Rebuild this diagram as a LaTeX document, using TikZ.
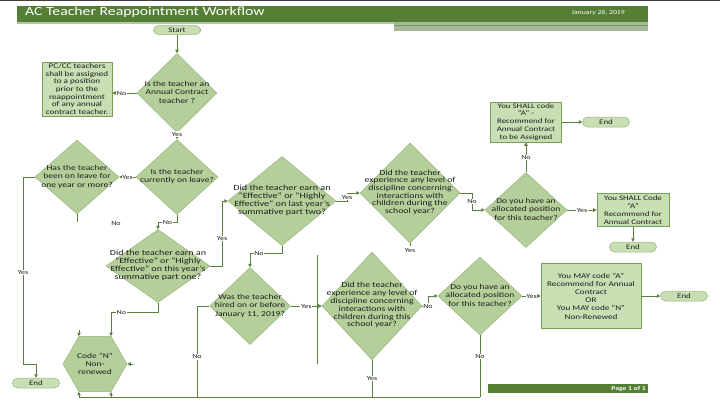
\documentclass[tikz,border=0pt]{standalone}
\usepackage{fontspec}
\setmainfont{Carlito}[FakeStretch=1.27]
\usetikzlibrary{arrows.meta,shapes.geometric}
\definecolor{ink}{HTML}{1E1E1E}
\definecolor{wire}{HTML}{5B7F3E}
\definecolor{band}{HTML}{547F35}
\definecolor{bandpale}{HTML}{B2C99E}
\definecolor{bandgrey}{HTML}{A7B898}
\definecolor{decision}{HTML}{B4CF9A}
\definecolor{decisionline}{HTML}{97B57B}
\definecolor{panel}{HTML}{C8DEB3}
\definecolor{panelline}{HTML}{76A055}
\newcommand{\qtext}[1]{\smash{\raisebox{-1.8pt}{\makebox[0pt]{\begin{tabular}{@{}c@{}}#1\end{tabular}}}}}

\begin{document}
\begin{tikzpicture}[x=1pt, y=-1pt, text=ink, font=\fontsize{7}{8.2}\selectfont,
  query/.style={diamond, draw=decisionline, fill=decision, line width=.5pt, inner sep=0pt,
    font=\fontsize{7.5}{8.4}\selectfont},
  action/.style={draw=panelline, fill=panel, line width=.6pt, inner sep=1pt, align=center},
  terminal/.style={draw=decisionline, fill=panel, line width=.5pt, rounded corners=5pt,
    minimum width=47pt, minimum height=10pt, inner sep=0pt},
  arrow/.style={-{Triangle[length=3.5pt,width=3.5pt]}, draw=wire, line width=.7pt},
  link/.style={draw=wire, line width=.7pt},
  answer/.style={fill=white, inner sep=.6pt, font=\fontsize{6.3}{7}\selectfont}
]
  \useasboundingbox (0,0) rectangle (720,405);
  % page header and footer
  \fill[black!75] (0,0) rectangle (720,1.3);
  \fill[band] (17,6) rectangle (648,22);
  \fill[bandpale] (17,22) rectangle (394,24);
  \fill[bandgrey] (394,22) rectangle (648,31);
  \draw[band!80, line width=.8pt] (394,25) -- (648,25);
  \fill[band] (488,384) rectangle (648,393);
  \node[text=white, font=\fontsize{12.4}{13}\selectfont, anchor=base west, inner sep=0pt] (title) at (25,15)
    {AC Teacher Reappointment Workflow};
  \node[text=white, font=\fontsize{6.1}{7}\selectfont, anchor=base east, inner sep=0pt] (date) at (625,14)
    {January 28, 2019};
  \node[text=white, font=\fontsize{6}{7}\selectfont\bfseries, anchor=base east, inner sep=0pt] (page) at (646,390.5)
    {Page 1 of 1};

  % steps
  \node[terminal, minimum height=9pt] (start) at (177,30) {Start};
  \node[query, minimum width=80pt, minimum height=79pt] (annual) at (177,93)
    {\qtext{Is the teacher an\\Annual Contract\\teacher ?}};
  \node[action, minimum width=70pt, minimum height=54pt, font=\fontsize{7.2}{7.6}\selectfont] (assign) at (77,89)
    {PC/CC teachers\\shall be assigned\\to a position\\prior to the\\reappointment\\of any annual\\contract teacher.};
  \node[query, minimum width=82pt, minimum height=75pt] (onleave) at (177,177)
    {\qtext{Is the teacher\\currently on leave?}};
  \node[query, minimum width=84pt, minimum height=74pt] (longleave) at (77,177)
    {\qtext{Has the teacher\\been on leave for\\one year or more?}};
  \node[query, minimum width=104pt, minimum height=73pt, font=\fontsize{7.9}{7.9}\selectfont] (thisyear) at (158,266)
    {\qtext{Did the teacher earn an\\“Effective” or “Highly\\Effective” on this year’s\\summative part one?}};
  \node[query, minimum width=108pt, minimum height=89pt, font=\fontsize{8}{8}\selectfont] (lastyear) at (282,201)
    {\qtext{Did the teacher earn an\\“Effective” or “Highly\\Effective” on last year’s\\summative part two?}};
  \node[query, minimum width=100pt, minimum height=100pt, font=\fontsize{7.7}{7.6}\selectfont] (discA) at (410,193)
    {\qtext{Did the teacher\\experience any level of\\discipline concerning\\interactions with\\children during the\\school year?}};
  \node[query, minimum width=82pt, minimum height=75pt] (positionA) at (526,210)
    {\qtext{Do you have an\\allocated position\\for this teacher?}};
  \node[action, minimum width=71pt, minimum height=40pt, font=\fontsize{7}{7.9}\selectfont] (assignA) at (526,122)
    {You SHALL code\\“A” -\\Recommend for\\Annual Contract\\to be Assigned};
  \node[terminal] (endA) at (606,122) {End};
  \node[action, minimum width=72pt, minimum height=33pt, font=\fontsize{7}{7.9}\selectfont] (codeA) at (633,210)
    {You SHALL Code\\“A”\\Recommend for\\Annual Contract};
  \node[terminal] (endB) at (633,247) {End};
  \node[query, minimum width=81pt, minimum height=77pt] (hired) at (250,306)
    {\qtext{Was the teacher\\hired on or before\\January 11, 2019?}};
  \node[query, minimum width=100pt, minimum height=108pt, font=\fontsize{7.7}{7.8}\selectfont] (discB) at (372,306)
    {\qtext{Did the teacher\\experience any level of\\discipline concerning\\interactions with\\children during this\\school year?}};
  \node[query, minimum width=84pt, minimum height=78pt] (positionB) at (480,296)
    {\qtext{Do you have an\\allocated position\\for this teacher?}};
  \node[action, minimum width=100pt, minimum height=65pt, font=\fontsize{7.2}{8.2}\selectfont] (mayA) at (591,296)
    {You MAY code “A”\\Recommend for Annual\\Contract\\OR\\You MAY code “N”\\Non-Renewed};
  \node[terminal] (endC) at (684,296) {End};
  \node[regular polygon, regular polygon sides=6, minimum size=64pt, draw=decisionline, fill=decision,
    line width=.5pt, inner sep=0pt, align=center, font=\fontsize{7.4}{8}\selectfont] (nonrenew) at (95,364)
    {Code “N”\\Non-\\renewed};
  \node[terminal] (endD) at (36,383) {End};

  % connectors
  \draw[arrow] (start) -- (annual);
  \draw[arrow] (annual.west) -- (annual.west -| assign.east) node[answer, pos=.62] {No};
  \draw[arrow] (annual) -- (onleave) node[answer, pos=.2] {Yes};
  \draw[arrow] (onleave) -- (longleave) node[answer, midway] {Yes};
  \draw[arrow] (longleave.west) -- (23,177) -- (23,364) node[answer, pos=.51] {Yes}
    -- (36,364) -- (endD.north);
  \draw[link] (longleave.south) -- ++(0,8);
  \node[answer] (leaveno) at (116,223) {No};
  \draw[arrow] (onleave.south) -- ++(0,8) -| (thisyear.north) node[answer, pos=.25] {No};
  \draw[arrow] (thisyear.east) -| (222,201) node[answer, pos=.71] {Yes} -- (lastyear.west);
  \draw[arrow] (thisyear.south) -- ++(0,10) -| ([xshift=16pt]nonrenew.north) node[answer, pos=.39] {No};
  \draw[arrow] (lastyear.east) -- (347,201) |- (discA.west) node[answer, pos=.25] {Yes};
  \draw[arrow] (lastyear.south) -- ++(0,8) -| (hired.north) node[answer, pos=.36] {No};
  \draw[link] (discA.south) -- ++(0,3);
  \node[answer] (discyes) at (410,250) {Yes};
  \coordinate (dropTop) at (317,255);
  \coordinate (dropEnd) at (317,364);
  \draw[link] (dropTop) -- (dropEnd);
  \draw[arrow] ([xshift=6pt]nonrenew.east) -- (nonrenew.east);
  \draw[arrow] ([shift={(-16pt,6pt)}]nonrenew.north) -- ([xshift=-16pt]nonrenew.north);
  \draw[arrow] (discA.east) -| (472,210) node[answer, pos=.75] {No} -- (positionA.west);
  \draw[arrow] (positionA) -- (assignA) node[answer, midway] {No};
  \draw[arrow] (assignA) -- (endA);
  \draw[arrow] (positionA) -- (codeA) node[answer, midway] {Yes};
  \draw[arrow] (codeA) -- (endB);
  \draw[arrow] (hired) -- (discB) node[answer, midway] {Yes};
  \draw[link] (hired.west) -| (197,397) node[answer, pos=.78] {No};
  \draw[link] (discB.south) -- (372,397) node[answer, midway] {Yes};
  \draw[arrow] (discB.east) -| (428,296) node[answer, pos=.5] {No} -- (positionB.west);
  \draw[link] (positionB.south) -- (480,397) node[answer, pos=.34] {No};
  \coordinate (busR) at (480,397);
  \coordinate (busM) at (111,397);
  \coordinate (busL) at (79,397);
  \draw[link] (busR) -- (busL);
  \draw[arrow] (busL) -- (busL |- nonrenew.south);
  \draw[arrow] (busM) -- (busM |- nonrenew.south);
  \draw[arrow] (positionB) -- (mayA) node[answer, midway] {Yes};
  \draw[arrow] (mayA) -- (endC);
\end{tikzpicture}
\end{document}
